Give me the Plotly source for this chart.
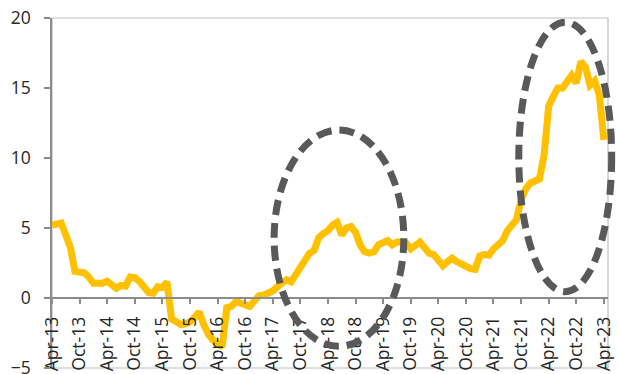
import plotly.graph_objects as go

months = ["Apr", "May", "Jun", "Jul", "Aug", "Sep", "Oct", "Nov", "Dec", "Jan", "Feb", "Mar"]
# Monthly index Apr-13 .. Apr-23
dates = []
for i in range(121):
    m = months[i % 12]
    yr = 13 + (i + 3) // 12
    dates.append(f"{m}-{yr}")

values = [
    5.2, 5.3, 5.35, 4.5, 3.6, 1.9, 1.85, 1.8, 1.5, 1.05, 1.05, 1.05,
    1.2, 0.9, 0.7, 0.9, 0.85, 1.5, 1.45, 1.2, 0.8, 0.4, 0.35, 0.8,
    0.75, 1.15, -1.5, -1.7, -1.9, -1.85, -1.7, -1.4, -1.0, -1.9, -2.6, -3.0,
    -3.2, -3.5, -0.7, -0.6, -0.25, -0.4, -0.5, -0.6, -0.2, 0.15, 0.2, 0.35,
    0.5, 0.8, 1.0, 1.3, 1.15, 1.7, 2.2, 2.8, 3.2, 3.4, 4.3, 4.6,
    4.8, 5.2, 5.4, 4.5, 5.0, 5.1, 4.7, 3.8, 3.3, 3.2, 3.3, 3.8,
    4.0, 4.1, 3.8, 4.0, 4.0, 3.9, 3.5, 3.7, 4.0, 3.6, 3.2, 3.1,
    2.6, 2.3, 2.6, 2.85, 2.6, 2.4, 2.2, 2.1, 2.05, 3.0, 3.1, 3.05,
    3.5, 3.8, 4.1, 4.8, 5.3, 5.6, 7.0, 7.8, 8.2, 8.3, 8.5, 10.2,
    13.7, 14.4, 15.0, 15.0, 15.4, 15.9, 15.35, 16.9, 16.5, 15.2, 15.5, 14.5,
    11.3,
]

tick_positions = list(range(0, 121, 6))
tick_labels = [dates[i] for i in tick_positions]
y_ticks = [-5, 0, 5, 10, 15, 20]

# highlighted regions (month index / value extents)
ellipses = [
    dict(x0=48.3, x1=76.5, y0=-3.45, y1=12.0),
    dict(x0=101.5, x1=121.7, y0=0.45, y1=19.7),
]

X_RANGE = [0, 120.9]
Y_RANGE = [-5, 20]

x_idx = list(range(len(values)))

fig = go.Figure()
fig.add_trace(go.Scatter(
    x=x_idx, y=values, mode="lines",
    line=dict(color="#FFC000", width=7),
    hoverinfo="skip", showlegend=False,
))

def px(v):
    return (v - X_RANGE[0]) / (X_RANGE[1] - X_RANGE[0])

def py(v):
    return (v - Y_RANGE[0]) / (Y_RANGE[1] - Y_RANGE[0])

shapes = [
    dict(type="rect", xref="paper", yref="paper", x0=0, x1=1, y0=0, y1=1,
         line=dict(color="#BFBFBF", width=1.2), layer="below"),
]
for e in ellipses:
    shapes.append(dict(
        type="circle", xref="paper", yref="paper",
        x0=px(e["x0"]), x1=px(e["x1"]), y0=py(e["y0"]), y1=py(e["y1"]),
        line=dict(color="#595959", width=7, dash="15px,8px"),
        layer="above",
    ))

font_family = "Open Sans, DejaVu Sans, sans-serif"

fig.update_layout(
    width=619, height=374,
    margin=dict(l=52, r=11, t=18, b=6),
    paper_bgcolor="white", plot_bgcolor="white",
    font=dict(family=font_family, size=17.5, color="#262626"),
    shapes=shapes,
    xaxis=dict(
        range=X_RANGE, tickmode="array", tickvals=tick_positions, ticktext=tick_labels,
        tickangle=-90, anchor="free", position=py(0),
        showline=True, linecolor="#8C8C8C", linewidth=1.5,
        ticks="outside", ticklen=5, tickcolor="#8C8C8C", tickwidth=1.5,
        showgrid=False, zeroline=False, ticklabelstandoff=6, automargin=False,
        ticklabeloverflow="allow",
        tickfont=dict(size=17.5, color="#262626"),
    ),
    yaxis=dict(
        range=Y_RANGE, tickmode="array", tickvals=y_ticks,
        showline=True, linecolor="#8C8C8C", linewidth=1.5,
        ticks="outside", ticklen=6, tickcolor="#8C8C8C", tickwidth=1.5,
        showgrid=False, zeroline=False, ticklabelstandoff=10, automargin=False,
        ticklabeloverflow="allow",
        tickfont=dict(size=17.5, color="#262626"),
    ),
)

fig.write_html("out.html")
